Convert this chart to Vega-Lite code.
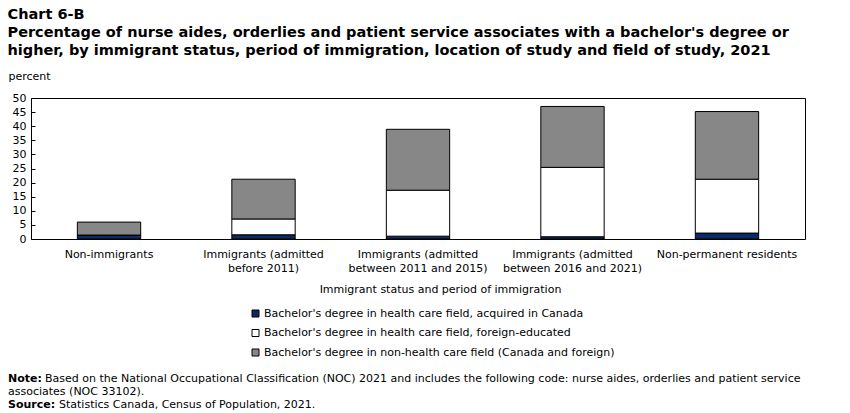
{
  "$schema": "https://vega.github.io/schema/vega-lite/v6.json",
  "background": "white",
  "padding": {"left": 7, "top": 7, "right": 5, "bottom": 0},
  "config": {
    "font": "DejaVu Sans",
    "view": {"stroke": null},
    "concat": {"spacing": 77},
    "axis": {"labelColor": "black", "titleColor": "black", "labelFontSize": 11, "titleFontSize": 11, "titleFontWeight": "normal"},
    "legend": {"labelColor": "black", "labelFontSize": 11}
  },
  "title": {
    "text": [
      "Chart 6-B",
      "Percentage of nurse aides, orderlies and patient service associates with a bachelor's degree or",
      "higher, by immigrant status, period of immigration, location of study and field of study, 2021"
    ],
    "anchor": "start",
    "frame": "bounds",
    "fontSize": 14.5,
    "fontWeight": "bold",
    "lineHeight": 18,
    "color": "black",
    "offset": 11
  },
  "vconcat": [
    {
      "width": 774,
      "height": 141,
      "view": {"stroke": "black", "strokeWidth": 1},
      "data": {
        "values": [
          {"group": "Non-immigrants", "field": "Bachelor's degree in health care field, acquired in Canada", "pct": 1.4},
          {"group": "Non-immigrants", "field": "Bachelor's degree in health care field, foreign-educated", "pct": 0.0},
          {"group": "Non-immigrants", "field": "Bachelor's degree in non-health care field (Canada and foreign)", "pct": 4.6},
          {"group": "Immigrants (admitted before 2011)", "field": "Bachelor's degree in health care field, acquired in Canada", "pct": 1.5},
          {"group": "Immigrants (admitted before 2011)", "field": "Bachelor's degree in health care field, foreign-educated", "pct": 5.6},
          {"group": "Immigrants (admitted before 2011)", "field": "Bachelor's degree in non-health care field (Canada and foreign)", "pct": 14.1},
          {"group": "Immigrants (admitted between 2011 and 2015)", "field": "Bachelor's degree in health care field, acquired in Canada", "pct": 1.0},
          {"group": "Immigrants (admitted between 2011 and 2015)", "field": "Bachelor's degree in health care field, foreign-educated", "pct": 16.3},
          {"group": "Immigrants (admitted between 2011 and 2015)", "field": "Bachelor's degree in non-health care field (Canada and foreign)", "pct": 21.6},
          {"group": "Immigrants (admitted between 2016 and 2021)", "field": "Bachelor's degree in health care field, acquired in Canada", "pct": 0.8},
          {"group": "Immigrants (admitted between 2016 and 2021)", "field": "Bachelor's degree in health care field, foreign-educated", "pct": 24.6},
          {"group": "Immigrants (admitted between 2016 and 2021)", "field": "Bachelor's degree in non-health care field (Canada and foreign)", "pct": 21.6},
          {"group": "Non-permanent residents", "field": "Bachelor's degree in health care field, acquired in Canada", "pct": 2.1},
          {"group": "Non-permanent residents", "field": "Bachelor's degree in health care field, foreign-educated", "pct": 19.1},
          {"group": "Non-permanent residents", "field": "Bachelor's degree in non-health care field (Canada and foreign)", "pct": 24.0}
        ]
      },
      "mark": {"type": "bar", "stroke": "black", "strokeWidth": 1},
      "encoding": {
        "x": {
          "field": "group",
          "type": "nominal",
          "sort": null,
          "scale": {"paddingInner": 0.59, "paddingOuter": 0.3},
          "axis": {
            "title": "Immigrant status and period of immigration",
            "titleX": 409,
            "titlePadding": 10,
            "labelAngle": 0,
            "ticks": false,
            "domain": false,
            "labelPadding": 9,
            "labelLineHeight": 14,
            "labelExpr": "test(/admitted/, datum.value) ? [substring(datum.value, 0, indexof(datum.value, 'admitted') + 8), substring(datum.value, indexof(datum.value, 'admitted') + 9)] : datum.value"
          }
        },
        "y": {
          "field": "pct",
          "type": "quantitative",
          "stack": "zero",
          "scale": {"domain": [0, 50], "nice": false},
          "axis": {
            "title": "percent",
            "titleAngle": 0,
            "titleAlign": "left",
            "titleBaseline": "middle",
            "titleX": -23,
            "titleY": -22,
            "values": [0, 5, 10, 15, 20, 25, 30, 35, 40, 45, 50],
            "grid": false,
            "ticks": true,
            "tickSize": -4,
            "tickColor": "black",
            "domain": false,
            "labelPadding": 9
          }
        },
        "color": {
          "field": "field",
          "type": "nominal",
          "scale": {
            "domain": [
              "Bachelor's degree in health care field, acquired in Canada",
              "Bachelor's degree in health care field, foreign-educated",
              "Bachelor's degree in non-health care field (Canada and foreign)"
            ],
            "range": ["#0c2a63", "#ffffff", "#878787"]
          },
          "legend": {
            "orient": "none",
            "legendX": 219,
            "legendY": 210,
            "direction": "vertical",
            "title": null,
            "padding": 0,
            "symbolType": "square",
            "symbolSize": 49,
            "symbolStrokeColor": "black",
            "symbolStrokeWidth": 1,
            "labelOffset": 3,
            "rowPadding": 7.5,
            "labelLimit": 600
          }
        },
        "order": {"field": "field", "type": "nominal", "sort": "ascending"}
      }
    },
    {
      "width": 774,
      "height": 39,
      "data": {
        "values": [
          {"line": 1, "lead": "Note:", "text": "Based on the National Occupational Classification (NOC) 2021 and includes the following code: nurse aides, orderlies and patient service"},
          {"line": 2, "lead": "", "text": "associates (NOC 33102)."},
          {"line": 3, "lead": "Source:", "text": "Statistics Canada, Census of Population, 2021."}
        ]
      },
      "encoding": {
        "y": {"field": "line", "type": "ordinal", "axis": null}
      },
      "layer": [
        {
          "transform": [{"filter": "datum.lead != ''"}],
          "mark": {"type": "text", "align": "left", "baseline": "middle", "fontSize": 11, "fontWeight": "bold", "color": "black"},
          "encoding": {"x": {"value": -23}, "text": {"field": "lead"}}
        },
        {
          "transform": [{"filter": "datum.line == 1"}],
          "mark": {"type": "text", "align": "left", "baseline": "middle", "fontSize": 11, "color": "black", "dx": 37},
          "encoding": {"x": {"value": -23}, "text": {"field": "text"}}
        },
        {
          "transform": [{"filter": "datum.line == 2"}],
          "mark": {"type": "text", "align": "left", "baseline": "middle", "fontSize": 11, "color": "black"},
          "encoding": {"x": {"value": -23}, "text": {"field": "text"}}
        },
        {
          "transform": [{"filter": "datum.line == 3"}],
          "mark": {"type": "text", "align": "left", "baseline": "middle", "fontSize": 11, "color": "black", "dx": 51},
          "encoding": {"x": {"value": -23}, "text": {"field": "text"}}
        }
      ]
    }
  ]
}
